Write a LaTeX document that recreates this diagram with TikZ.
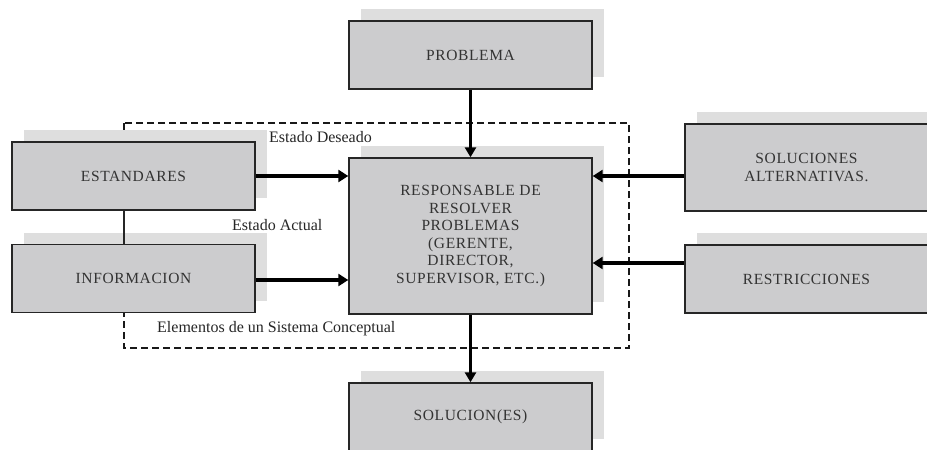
\documentclass[tikz,border=0pt]{standalone}
\usepackage{fontspec}
\setmainfont{Liberation Serif}
\newfontfamily\boxfont[LetterSpace=4]{Liberation Serif}
\usetikzlibrary{arrows.meta,shadows}
\definecolor{boxgray}{RGB}{204,204,206}
\definecolor{shadowgray}{RGB}{222,222,222}
\tikzset{
  box/.style={draw=black!85, line width=1.4pt, fill=boxgray, minimum width=243pt, minimum height=68pt,
    align=center, inner sep=0pt, font=\boxfont\fontsize{15.5}{17.6}\selectfont, text=black!80,
    drop shadow={shadow xshift=12pt, shadow yshift=12pt, fill=shadowgray, opacity=1}},
  thickarrow/.style={line width=3.6pt, -{Triangle[length=10pt,width=12pt]}},
  medarrow/.style={line width=2.6pt, -{Triangle[length=10pt,width=11pt]}},
  lbl/.style={font=\fontsize{16}{18}\selectfont, text=black!85, anchor=west, inner sep=0pt},
  border/.style={line width=2.5pt, dash pattern=on 7pt off 4pt, draw=black!90}
}
\begin{document}
\begin{tikzpicture}[x=1pt,y=-1pt]
\useasboundingbox (0,0) rectangle (927,450);
\clip (0,0) rectangle (927,450);
\fill[white] (0,0) rectangle (927,450);
% dashed system border
\coordinate (dtl) at (124,123);
\coordinate (dbr) at (629,348);
\draw[border] (dtl) rectangle (dbr);
% boxes
\node[box] (prob) at (470.5,55) {PROBLEMA};
\node[box] (est) at (133.5,176) {ESTANDARES};
\node[box] (inf) at (133.5,278.5) {INFORMACION};
\node[box, minimum height=156pt] (resp) at (470.5,236) {RESPONSABLE DE\\RESOLVER\\PROBLEMAS\\(GERENTE,\\DIRECTOR,\\SUPERVISOR, ETC.)};
\node[box, minimum height=87pt] (sol) at (806.5,167.5) {SOLUCIONES\\ALTERNATIVAS.};
\node[box] (res) at (806.5,279) {RESTRICCIONES};
\node[box] (out) at (470.5,417) {SOLUCION(ES)};
% solid link between ESTANDARES and INFORMACION
\draw[line width=1.2pt, black!85] (est.south -| dtl) -- (inf.north -| dtl);
% arrows
\draw[medarrow] (prob.south) -- (resp.north);
\draw[medarrow] (resp.south) -- (out.north);
\draw[thickarrow] (est.east) -- (est.east -| resp.west);
\draw[thickarrow] ([yshift=-1.5pt]inf.east) -- ([yshift=-1.5pt]inf.east -| resp.west);
\coordinate (solA) at ([yshift=-8.5pt]sol.west);
\coordinate (resA) at ([yshift=16pt]res.west);
\draw[thickarrow] (solA) -- (solA -| resp.east);
\draw[thickarrow] (resA) -- (resA -| resp.east);
% labels
\node[lbl] (lD) at (269,137) {Estado Deseado};
\node[lbl] (lA) at (232,225) {Estado Actual};
\node[lbl] (lE) at (157,329) {Elementos de un Sistema Conceptual};
\end{tikzpicture}
\end{document}
